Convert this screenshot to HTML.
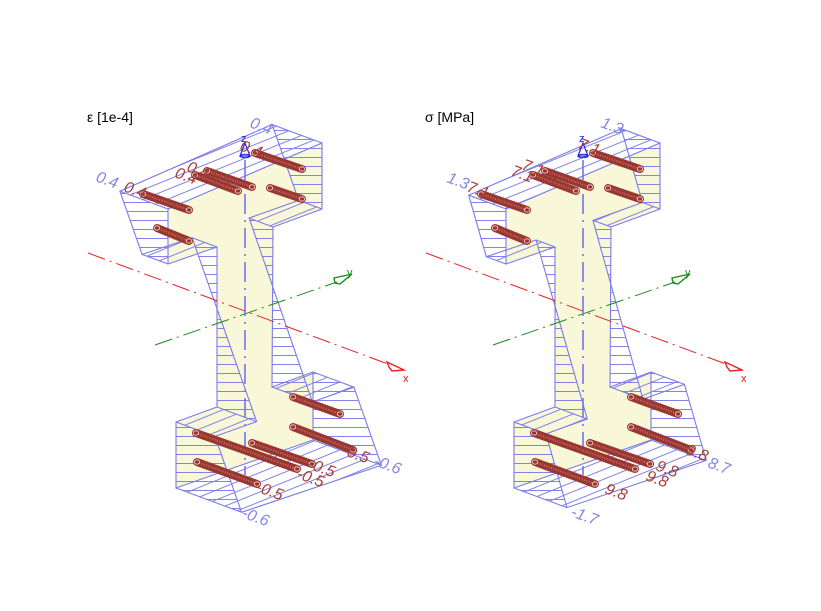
<!DOCTYPE html>
<html><head><meta charset="utf-8">
<style>
html,body{margin:0;padding:0;background:#fff;}
svg{display:block;}
text{font-family:"Liberation Sans",sans-serif;}
.pl{fill:#8585e6;font-size:16px;font-style:italic;}
.rl{fill:#a5403c;font-size:16px;font-style:italic;}
</style></head>
<body>
<svg id="s" width="821" height="611" viewBox="0 0 821 611" xmlns="http://www.w3.org/2000/svg">
<rect width="821" height="611" fill="#fff"/>
<g id="g0"></g>
<g id="g1"></g>
<text x="87" y="122" font-size="14" fill="#000">ε [1e-4]</text>
<text x="425" y="122" font-size="14" fill="#000">σ [MPa]</text>

<text class="pl" transform="translate(249,127) rotate(20)">0.4</text>
<text class="pl" transform="translate(95,181) rotate(20)">0.4</text>
<text class="rl" transform="translate(239,150) rotate(20)">0.4</text>
<text class="rl" transform="translate(186,171) rotate(20)">0.4</text>
<text class="rl" transform="translate(174,177) rotate(20)">0.4</text>
<text class="rl" transform="translate(123,191) rotate(20)">0.4</text>
<text class="rl" transform="translate(341,454) rotate(20)">-0.5</text>
<text class="rl" transform="translate(307,468) rotate(20)">-0.5</text>
<text class="rl" transform="translate(296,478) rotate(20)">-0.5</text>
<text class="rl" transform="translate(255,491) rotate(20)">-0.5</text>
<text class="pl" transform="translate(373,465) rotate(20)">-0.6</text>
<text class="pl" transform="translate(241,517) rotate(20)">-0.6</text>

<text class="pl" transform="translate(600,127) rotate(20)">1.3</text>
<text class="pl" transform="translate(446,182) rotate(20)">1.3</text>
<text class="rl" transform="translate(577,148) rotate(20)">7.1</text>
<text class="rl" transform="translate(521,169) rotate(20)">7.1</text>
<text class="rl" transform="translate(510,175) rotate(20)">7.1</text>
<text class="rl" transform="translate(466,191) rotate(20)">7.1</text>
<text class="rl" transform="translate(685,454) rotate(20)">9.8</text>
<text class="rl" transform="translate(655,470) rotate(20)">9.8</text>
<text class="rl" transform="translate(645,480) rotate(20)">9.8</text>
<text class="rl" transform="translate(604,493) rotate(20)">9.8</text>
<text class="pl" transform="translate(707,467) rotate(20)">8.7</text>
<text class="pl" transform="translate(570,516) rotate(20)">-1.7</text>

<text x="403" y="382" font-size="11" fill="#e02020">x</text>
<text x="741" y="382" font-size="11" fill="#e02020">x</text>
<text x="347" y="276" font-size="11" fill="#1a8a1a">y</text>
<text x="685" y="276" font-size="11" fill="#1a8a1a">y</text>
<text x="241" y="142" font-size="11" fill="#2020f0">z</text>
<text x="579" y="142" font-size="11" fill="#2020f0">z</text>
</svg>
<script>
(function(){
var NS="http://www.w3.org/2000/svg";
function el(p,n,a){var e=document.createElementNS(NS,n);for(var k in a)e.setAttribute(k,a[k]);p.appendChild(e);return e;}
var sec=[[168,209],[322,143],[322,209],[273,227],[272,387],[313,372],[313,440],[176,488],[176,422],[217,407],[217,247],[168,264]];
var bars=[[255,153,302,169],[207,171,252,187],[195,175,238,191],[143,194,189,210],[270,188,302,199],[157,228,189,241],
[293,397,340,414],[293,427,353,450],[196,433,297,469],[252,443,312,464],[197,462,257,484]];
function draw(g,ox,a,b,id){
  var defs=el(g,"defs",{});
  var p1=el(defs,"pattern",{id:"h"+id,width:"20",height:"9",patternUnits:"userSpaceOnUse"});
  el(p1,"line",{x1:0,y1:4.5,x2:20,y2:4.5,stroke:"#8282ea","stroke-width":"0.9"});
  var p2=el(defs,"pattern",{id:"d"+id,width:"20",height:"9",patternUnits:"userSpaceOnUse",patternTransform:"rotate(-22)"});
  el(p2,"line",{x1:0,y1:4.5,x2:20,y2:4.5,stroke:"#8282ea","stroke-width":"0.9"});
  var S=sec.map(function(p){return [p[0]+ox,p[1]];});
  var O=sec.map(function(p){var v=p[1]+0.4*(p[0]-245);var dx=a+b*(v-176);return [p[0]+ox+dx,p[1]+0.37*dx];});
  function pts(arr){return arr.map(function(p){return p[0].toFixed(1)+","+p[1].toFixed(1);}).join(" ");}
  el(g,"polygon",{points:pts(S),fill:"#f8f8d8",stroke:"none"});
  var n=S.length;
  for(var i=0;i<n;i++){var j=(i+1)%n;var P=S[i],Q=S[j];
    var vert=Math.abs(P[0]-Q[0])<6;
    el(g,"polygon",{points:pts([P,Q,O[j],O[i]]),fill:"url(#"+(vert?"h":"d")+id+")",stroke:"none"});}
  var st={fill:"none",stroke:"#7b7bea","stroke-width":"1.1"};
  el(g,"polygon",Object.assign({points:pts(S)},st));
  el(g,"polygon",Object.assign({points:pts(O)},st));
  for(var i=0;i<n;i++)el(g,"line",Object.assign({x1:S[i][0],y1:S[i][1],x2:O[i][0],y2:O[i][1]},st));
  el(g,"line",{x1:88+ox,y1:253,x2:388+ox,y2:364,stroke:"#e82020","stroke-width":"1","stroke-dasharray":"18,5,2,5"});
  el(g,"polygon",{points:(387+ox)+",362 "+(404+ox)+",370 "+(392+ox)+",371 "+(389+ox)+",367",fill:"none",stroke:"#e82020","stroke-width":"1.4"});
  el(g,"line",{x1:155+ox,y1:345,x2:337+ox,y2:282,stroke:"#1a8a1a","stroke-width":"1","stroke-dasharray":"18,5,2,5"});
  el(g,"polygon",{points:(334+ox)+",278 "+(352+ox)+",274 "+(340+ox)+",284 "+(335+ox)+",283",fill:"none",stroke:"#1a8a1a","stroke-width":"1.4"});
  el(g,"line",{x1:245+ox,y1:160,x2:245+ox,y2:475,stroke:"#7474ee","stroke-width":"1.6","stroke-dasharray":"20,6,2,6"});
  el(g,"polygon",{points:(245+ox)+",143 "+(240+ox)+",156 "+(250+ox)+",156",fill:"none",stroke:"#2020f0","stroke-width":"1.2"});
  el(g,"ellipse",{cx:245+ox,cy:156,rx:5,ry:1.8,fill:"none",stroke:"#2020f0","stroke-width":"1"});
  bars.forEach(function(r){
    var x1=r[0]+ox,y1=r[1],x2=r[2]+ox,y2=r[3];
    el(g,"line",{x1:x1,y1:y1,x2:x2,y2:y2,stroke:"#9a3630","stroke-width":"8","stroke-linecap":"round"});
    el(g,"line",{x1:x1+2,y1:y1+0.7,x2:x2-2,y2:y2-0.7,stroke:"#c0706a","stroke-width":"2","stroke-dasharray":"1,1.5"});
    el(g,"ellipse",{cx:x1,cy:y1,rx:2.7,ry:2.2,fill:"none",stroke:"#f0d0d0","stroke-width":"0.9"});
    el(g,"ellipse",{cx:x2,cy:y2,rx:2.7,ry:2.2,fill:"none",stroke:"#f0d0d0","stroke-width":"0.9"});
  });
}
draw(document.getElementById("g0"),0,-49,0.403,"a");
draw(document.getElementById("g1"),338,-38,0.32,"b");
})();
</script>
</body></html>
